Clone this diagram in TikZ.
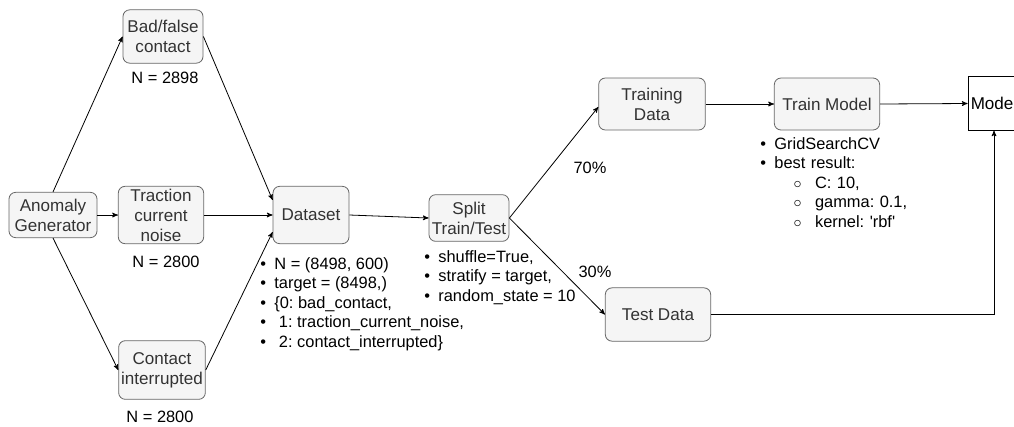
\documentclass[tikz,border=0pt]{standalone}
\usepackage{fontspec}
\setmainfont{Liberation Sans}
\usepackage{xcolor}
\usetikzlibrary{arrows}
\definecolor{boxfill}{HTML}{F5F5F5}
\definecolor{boxline}{HTML}{666666}
\definecolor{boxtext}{HTML}{333333}
\frenchspacing
\newcommand{\boxfont}{\fontsize{12.8}{15}\selectfont}
\newcommand{\listfont}{\fontsize{12.3}{14.6}\selectfont}
\newcommand{\bitem}{\makebox[10.5pt][l]{\textbullet}}
\newcommand{\citem}{\hspace*{25pt}\makebox[16pt][l]{$\circ$}}
\tikzset{
	proc node/.style={draw=boxline,fill=boxfill,text=boxtext,rounded corners=5pt,
		align=center,font=\boxfont,inner sep=1pt},
	count/.style={font=\listfont},
	notes/.style={font=\listfont,align=left,anchor=north west,inner sep=0pt}
}

\begin{document}
\begin{tikzpicture}[->,>=stealth',semithick,x=0.75pt,y=-0.75pt]
	\useasboundingbox (0,0) rectangle (1014,426);
	% generator and the three anomaly classes
	\node [proc node,minimum width=66pt,minimum height=34pt] (gen) at (53,215) {Anomaly\\Generator};
	\node [proc node,minimum width=60pt,minimum height=40pt] (bad) at (163,36.5) {Bad/false\\contact};
	\node [proc node,minimum width=64pt,minimum height=43pt] (trac) at (161,215) {Traction\\current\\noise};
	\node [proc node,minimum width=65pt,minimum height=44pt] (cont) at (162,370) {Contact\\interrupted};
	\node [count] (nbad) at (165,78) {N = 2898};
	\node [count] (ntrac) at (166,262) {N = 2800};
	\node [count] (ncont) at (160,417) {N = 2800};
	% dataset and split
	\node [proc node,minimum width=57pt,minimum height=43pt] (data) at (311,215) {Dataset};
	\node [proc node,minimum width=60pt,minimum height=35pt] (split) at (469,218) {Split\\Train/Test};
	\node [notes] (dnotes) at (260,257) {\bitem N = (8498, 600)\\ \bitem target = (8498,)\\
		\bitem \{0: bad\_contact,\\ \bitem \ 1: traction\_current\_noise,\\ \bitem \ 2: contact\_interrupted\}};
	\node [notes] (snotes) at (424,250) {\bitem shuffle=True,\\ \bitem stratify = target,\\ \bitem random\_state = 10};
	% training side
	\node [proc node,minimum width=80pt,minimum height=39pt] (train) at (652,104) {Training\\Data};
	\node [proc node,minimum width=79pt,minimum height=40pt] (test) at (658,314.5) {Test Data};
	\node [proc node,minimum width=79pt,minimum height=39pt] (tmodel) at (827,104) {Train Model};
	\node [draw,fill=white,font=\boxfont,inner sep=1pt,minimum width=39pt,minimum height=40pt] (model) at (994,103.5) {Model};
	\node [count] (p70) at (590,168) {70\%};
	\node [count] (p30) at (595,272) {30\%};
	\node [notes,text width=200pt] (mnotes) at (760,137) {\bitem GridSearchCV\\ \bitem best result:\\
		\citem C: 10,\\ \citem gamma: 0.1,\\ \citem kernel: \textquotesingle rbf\textquotesingle};

	\draw (gen.north) -- (bad.west);
	\draw (gen.east) -- (trac.west);
	\draw (gen.south) -- (cont.west);
	\draw (bad.east) -- ([yshift=11.25pt]data.west);
	\draw (trac.east) -- (data.west);
	\draw (cont.east) -- ([yshift=-12.75pt]data.west);
	\draw (data.east) -- (split.west);
	\draw (split.east) -- ([yshift=-2.25pt]train.west);
	\draw (split.east) -- (test.west);
	\draw (train.east) -- (tmodel.west);
	\draw (tmodel.east) -- (model.west);
	\draw (test.east) -| (model.south);
\end{tikzpicture}
\end{document}
